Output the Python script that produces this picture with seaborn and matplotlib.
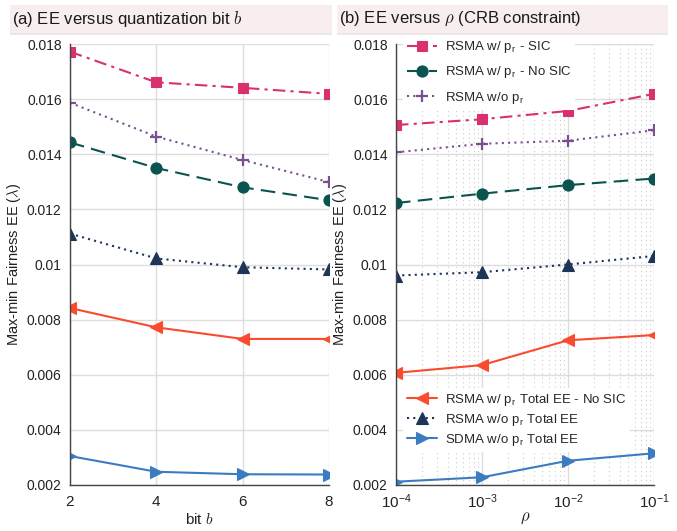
import numpy as np
import pandas as pd
import matplotlib
matplotlib.use("Agg")
import matplotlib.pyplot as plt
from matplotlib.patches import Rectangle
from matplotlib.ticker import FixedLocator, LogLocator, NullFormatter
import seaborn as sns

# ---- data -------------------------------------------------------------
bits = [2, 4, 6, 8]
rho = [1e-4, 1e-3, 1e-2, 1e-1]

series_labels = [
    r"RSMA w/ p$_\mathregular{r}$ - SIC",
    r"RSMA w/ p$_\mathregular{r}$ - No SIC",
    r"RSMA w/o p$_\mathregular{r}$",
    r"RSMA w/ p$_\mathregular{r}$ Total EE - No SIC",
    r"RSMA w/o p$_\mathregular{r}$ Total EE",
    r"SDMA w/o p$_\mathregular{r}$ Total EE",
]

# EE versus quantization bit b
ee_bit_sic = [0.01772, 0.01661, 0.01641, 0.01619]
ee_bit_nosic = [0.01443, 0.01350, 0.01280, 0.01233]
ee_bit_wo = [0.01587, 0.01464, 0.01379, 0.01299]
ee_bit_total_nosic = [0.00842, 0.00772, 0.00730, 0.00730]
ee_bit_total_wo = [0.01112, 0.01022, 0.00990, 0.00982]
ee_bit_sdma = [0.00305, 0.00248, 0.00239, 0.00238]

# EE versus rho (CRB constraint)
ee_rho_sic = [0.01506, 0.01527, 0.01557, 0.01619]
ee_rho_nosic = [0.01223, 0.01257, 0.01288, 0.01312]
ee_rho_wo = [0.01407, 0.01438, 0.01449, 0.01487]
ee_rho_total_nosic = [0.00607, 0.00635, 0.00725, 0.00744]
ee_rho_total_wo = [0.00960, 0.00972, 0.01000, 0.01031]
ee_rho_sdma = [0.00212, 0.00228, 0.00288, 0.00315]

y_ticks = [0.002, 0.004, 0.006, 0.008, 0.01, 0.012, 0.014, 0.016, 0.018]

# ---- styles -----------------------------------------------------------
styles = [
    dict(color="#d9306f", marker="s", ms=6.5, ls=(0, (6, 2.5, 1.5, 2.5))),
    dict(color="#0a5450", marker="o", ms=8, ls=(0, (7, 3.5))),
    dict(color="#7a4f92", marker="+", ms=8, mew=1.6, ls=(0, (1, 2))),
    dict(color="#fa4b2e", marker="<", ms=9, ls="-"),
    dict(color="#1c3558", marker="^", ms=9, ls=(0, (1, 2))),
    dict(color="#3c7bc2", marker=">", ms=9, ls="-"),
]

sns.set_theme(style="white")
plt.rcParams["font.family"] = ["Liberation Sans", "DejaVu Sans"]
plt.rcParams["mathtext.fontset"] = "cm"

fig = plt.figure(figsize=(6.77, 5.31), dpi=100)
ax1 = fig.add_axes([70 / 677, 1 - 485 / 531, 259 / 677, 441 / 531])
ax2 = fig.add_axes([396 / 677, 1 - 485 / 531, 258 / 677, 441 / 531])


def draw(ax, x, ys):
    lines = []
    for y, lab, st in zip(ys, series_labels, styles):
        df = pd.DataFrame({"x": x, "y": y})
        sns.lineplot(data=df, x="x", y="y", ax=ax, color=st["color"],
                     marker=st["marker"], markersize=st["ms"],
                     markeredgewidth=st.get("mew", 0.8),
                     markeredgecolor=st["color"], linestyle=st["ls"],
                     linewidth=1.5, label=lab, legend=False)
        lines.append(ax.lines[-1])
    return lines


def style_axes(ax):
    ax.set_ylim(0.002, 0.018)
    ax.yaxis.set_major_locator(FixedLocator(y_ticks))
    ax.set_yticklabels([f"{t:g}" for t in y_ticks])
    for s in ["top", "right"]:
        ax.spines[s].set_visible(False)
    for s in ["left", "bottom"]:
        ax.spines[s].set_color("#444444")
        ax.spines[s].set_linewidth(1.0)
    ax.tick_params(direction="in", length=5, width=0.8, colors="#444444",
                   labelsize=10, labelcolor="#222222", pad=6)
    ax.tick_params(which="minor", direction="in", length=3, width=0.6,
                   colors="#444444")
    ax.set_ylabel(r"Max-min Fairness EE ($\lambda$)", fontsize=10.5,
                  color="#222222", labelpad=3)
    ax.grid(True, which="major", color="#dddddd", linewidth=1.0)


# left panel
draw(ax1, bits, [ee_bit_sic, ee_bit_nosic, ee_bit_wo,
                 ee_bit_total_nosic, ee_bit_total_wo, ee_bit_sdma])
style_axes(ax1)
ax1.set_xlim(2, 8)
ax1.set_xticks(bits)
ax1.tick_params(axis="x", labelsize=11, pad=7)
ax1.set_xlabel("bit $b$", fontsize=11, color="#222222", labelpad=2)

# right panel
lines = draw(ax2, rho, [ee_rho_sic, ee_rho_nosic, ee_rho_wo,
                        ee_rho_total_nosic, ee_rho_total_wo, ee_rho_sdma])
ax2.set_xscale("log")
style_axes(ax2)
ax2.set_xlim(1e-4, 1e-1)
ax2.xaxis.set_major_locator(LogLocator(base=10, numticks=10))
ax2.xaxis.set_minor_locator(LogLocator(base=10, subs=np.arange(2, 10), numticks=20))
ax2.xaxis.set_minor_formatter(NullFormatter())
ax2.tick_params(axis="x", labelsize=11, pad=5)
ax2.grid(True, which="minor", axis="x", color="#cccccc", linewidth=0.8,
         linestyle=(0, (1, 3)))
ax2.set_xlabel(r"$\rho$", fontsize=12, color="#222222", labelpad=0)

leg_kw = dict(fontsize=9.5, frameon=True, facecolor="white", edgecolor="none",
              framealpha=1.0, fancybox=False, handlelength=2.3,
              handletextpad=0.6)
leg_top = ax2.legend(handles=lines[:3], loc="upper left",
                     bbox_to_anchor=(0.0, 1.035), labelspacing=0.7,
                     borderpad=0.3, **leg_kw)
ax2.add_artist(leg_top)
ax2.legend(handles=lines[3:], loc="lower left",
           bbox_to_anchor=(0.0, 0.06), labelspacing=0.3,
           borderpad=0.3, **leg_kw)

# panel title bars
for x0, x1, txt in [(10, 332, r"(a) EE versus quantization bit $b$"),
                    (337, 668, r"(b) EE versus $\rho$ (CRB constraint)")]:
    fig.patches.append(Rectangle((x0 / 677, 1 - 33 / 531), (x1 - x0) / 677,
                                 28 / 531, transform=fig.transFigure,
                                 facecolor="#f8eeee", edgecolor="none",
                                 zorder=0))
    fig.patches.append(Rectangle((x0 / 677, 1 - 35 / 531), (x1 - x0) / 677,
                                 2 / 531, transform=fig.transFigure,
                                 facecolor="#ece6e6", edgecolor="none",
                                 zorder=0))
    fig.text((x0 + 2) / 677, 1 - 19 / 531, txt, fontsize=12,
             color="#1a1a1a", va="center", ha="left")

fig.savefig("out.png", dpi=100)
